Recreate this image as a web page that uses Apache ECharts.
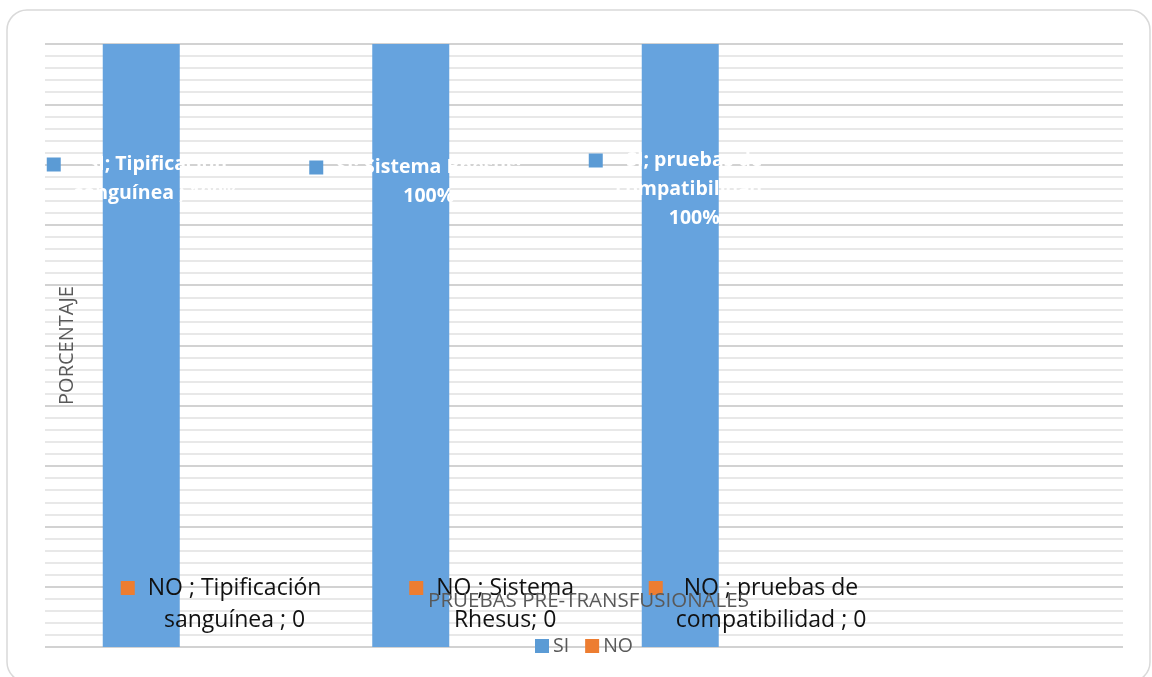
<!DOCTYPE html>
<html>
<head>
<meta charset="utf-8">
<script src="https://cdn.jsdelivr.net/npm/echarts@6/dist/echarts.min.js"></script>
<style>
  html, body { margin: 0; padding: 0; background: #ffffff; }
  #chart { width: 1152px; height: 677px; }
</style>
</head>
<body>
<div id="chart"></div>
<script>
// Chart data
const categories = ['Tipificación sanguínea ', 'Sistema Rhesus', 'pruebas de compatibilidad ', ''];
const seriesNames = ['SI', 'NO '];
const siValues = [100, 100, 100, null];
const noValues = [0, 0, 0, null];
const valueSuffixes = ['%', ''];
const axisMax = 100;
const axisStep = 10;

// Label anchors, measured from the top-left corner of each bar
const siLabelOffsets = [[-56, 106], [-63, 109], [-53, 102]];
const noLabelOffsets = [[-59, -75], [-40, -75], [-70, -75]];

const SI_COLOR = '#66a3de';
const SI_KEY = '#5b9bd5';
const NO_COLOR = '#ed7d31';
const FONT = '"Open Sans", "Noto Sans", sans-serif';

const measureCtx = document.createElement('canvas').getContext('2d');
function wrapWords(text, font, maxWidth) {
  measureCtx.font = font;
  const words = text.split(' ');
  const lines = [];
  let cur = '';
  for (const w of words) {
    const next = cur ? cur + ' ' + w : w;
    if (cur && measureCtx.measureText(next).width > maxWidth) {
      lines.push(cur);
      cur = w;
    } else {
      cur = next;
    }
  }
  if (cur) lines.push(cur);
  return lines;
}

// Data label: legend key, then "series; category; value" wrapped to a fixed width
function makeFormatter(seriesIdx, font, maxWidth) {
  return function (p) {
    if (p.value == null || p.name === '') return '';
    const text = seriesNames[seriesIdx] + '; ' + categories[p.dataIndex] + '; ' + p.value + valueSuffixes[seriesIdx];
    const lines = wrapWords(text, font, maxWidth);
    return lines.map((ln, i) => (i === 0 ? '{k|}{g|}' : '{s|}') + '{t|' + ln + '}').join('\n');
  };
}

function labelRich(keyColor, textStyle) {
  return {
    k: { width: 14, height: 14, backgroundColor: keyColor, align: 'left' },
    g: { width: 13, align: 'left' },
    s: { width: 27, align: 'left' },
    t: Object.assign({ align: 'center', fontFamily: FONT }, textStyle)
  };
}

function withLabelOffsets(values, offsets) {
  return values.map((v, i) => (offsets[i] ? { value: v, label: { position: offsets[i] } } : v));
}

const chart = echarts.init(document.getElementById('chart'), null, { renderer: 'canvas' });

chart.setOption({
  animation: false,
  backgroundColor: '#ffffff',
  graphic: [{
    type: 'rect',
    silent: true,
    z: -10,
    shape: { x: 7, y: 10, width: 1143, height: 672, r: 20 },
    style: { fill: 'none', stroke: '#d9d9d9', lineWidth: 1.5 }
  }],
  grid: { left: 45, right: 29, top: 44, bottom: 30, containLabel: false },
  legend: {
    left: 530,
    top: 631,
    itemWidth: 14,
    itemHeight: 14,
    itemGap: 16,
    icon: 'rect',
    textStyle: { color: '#595959', fontSize: 19.5, fontFamily: FONT, padding: [0, 0, 0, -1] },
    data: [
      { name: seriesNames[0], itemStyle: { color: SI_KEY } },
      { name: seriesNames[1], itemStyle: { color: NO_COLOR } }
    ]
  },
  xAxis: {
    type: 'category',
    z: 5,
    data: categories,
    name: 'PRUEBAS PRE-TRANSFUSIONALES',
    nameLocation: 'middle',
    nameGap: -56,
    nameTextStyle: { color: '#595959', fontSize: 20.5, fontFamily: FONT, padding: [0, 0, 0, 9] },
    axisLine: { show: false },
    axisTick: { show: false },
    axisLabel: { show: false }
  },
  yAxis: {
    type: 'value',
    min: 0,
    max: axisMax,
    interval: axisStep,
    name: 'PORCENTAJE',
    nameLocation: 'middle',
    nameGap: -32,
    nameTextStyle: { color: '#595959', fontSize: 20, fontFamily: FONT },
    axisLine: { show: false },
    axisTick: { show: false },
    axisLabel: { show: false },
    splitLine: { show: true, lineStyle: { color: '#d2d2d2', width: 2 } },
    minorTick: { show: false, splitNumber: 5 },
    minorSplitLine: { show: true, lineStyle: { color: '#e8e8e8', width: 2 } }
  },
  series: [
    {
      name: seriesNames[0],
      type: 'bar',
      barGap: '0%',
      barCategoryGap: '42.86%',
      itemStyle: { color: SI_COLOR },
      data: withLabelOffsets(siValues, siLabelOffsets),
      label: {
        show: true,
        align: 'left',
        verticalAlign: 'top',
        lineHeight: 29,
        formatter: makeFormatter(0, 'bold 19.5px "Open Sans"', 200),
        rich: labelRich(SI_KEY, { color: '#ffffff', fontWeight: 'bold', fontSize: 19.5, lineHeight: 29 })
      }
    },
    {
      name: seriesNames[1],
      type: 'bar',
      itemStyle: { color: NO_COLOR },
      data: withLabelOffsets(noValues, noLabelOffsets),
      label: {
        show: true,
        align: 'left',
        verticalAlign: 'top',
        lineHeight: 32,
        formatter: makeFormatter(1, '23px "Open Sans"', 208),
        rich: labelRich(NO_COLOR, { color: '#111111', fontSize: 23, lineHeight: 32 })
      }
    }
  ]
});
</script>
</body>
</html>
